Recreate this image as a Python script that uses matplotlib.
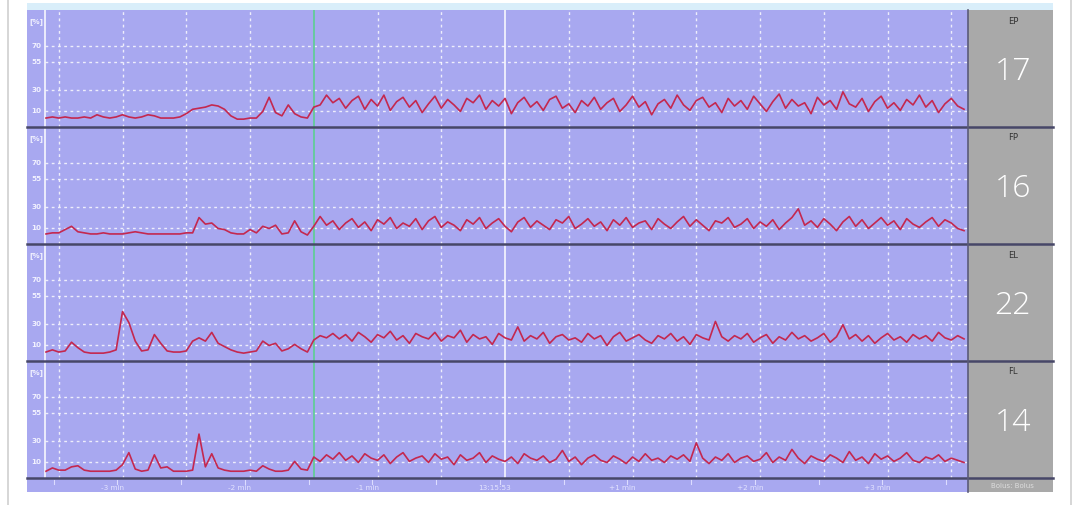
import numpy as np
import matplotlib
matplotlib.use("Agg")
import matplotlib.pyplot as plt
from matplotlib.patches import Rectangle

W, H = 1081, 505

names = ["EP", "FP", "EL", "FL"]
current = [17, 16, 22, 14]
grid_levels = [70, 55, 30, 10]
time_ticks = [-3, -2, -1, 0, 1, 2, 3]
time_labels = ["-3 min", "-2 min", "-1 min", "13:15:53", "+1 min", "+2 min", "+3 min"]

# trend values (%), before and after the marker at -1.5 min
ep_before = [4, 5, 4, 5, 4, 4, 5, 4, 7, 5,
             4, 5, 7, 5, 4, 5, 7, 6, 4, 4,
             4, 5, 8, 12, 13, 14, 16, 15, 12, 6,
             3, 3, 4, 4, 10, 23, 9, 6, 16, 8,
             5, 4]
ep_after = [14, 16, 25, 18, 22, 13, 20, 24, 12, 21,
            15, 25, 11, 19, 23, 14, 20, 9, 17, 24,
            13, 21, 16, 10, 22, 18, 25, 12, 20, 15,
            22, 8, 18, 23, 14, 19, 11, 21, 24, 13,
            17, 9, 20, 15, 23, 12, 18, 22, 10, 16,
            24, 14, 19, 7, 17, 21, 13, 25, 16, 11,
            20, 23, 14, 18, 9, 22, 15, 20, 12, 24,
            17, 10, 19, 26, 13, 21, 15, 18, 8, 23,
            16, 20, 12, 28, 17, 14, 22, 10, 19, 24,
            13, 18, 11, 21, 16, 25, 14, 20, 9, 17,
            22, 15, 12]

fp_before = [5, 6, 6, 9, 12, 7, 6, 5, 5, 6,
             5, 5, 5, 6, 7, 6, 5, 5, 5, 5,
             5, 5, 6, 6, 20, 14, 15, 10, 9, 6,
             5, 5, 9, 6, 12, 10, 13, 5, 6, 17,
             7, 4]
fp_after = [12, 21, 13, 17, 9, 15, 19, 11, 16, 8,
            18, 14, 20, 10, 15, 12, 19, 9, 17, 21,
            11, 16, 13, 8, 18, 14, 20, 10, 15, 19,
            12, 7, 16, 20, 11, 17, 13, 9, 18, 15,
            21, 10, 14, 19, 12, 16, 8, 18, 13, 20,
            11, 15, 17, 9, 19, 14, 10, 16, 21, 12,
            18, 13, 8, 17, 15, 20, 11, 14, 19, 10,
            16, 12, 18, 9, 15, 20, 28, 13, 17, 11,
            19, 14, 8, 16, 21, 12, 18, 10, 15, 20,
            13, 17, 9, 19, 14, 11, 16, 20, 12, 18,
            15, 10, 8]

el_before = [4, 6, 4, 5, 13, 8, 4, 3, 3, 3,
             4, 6, 41, 31, 14, 5, 6, 20, 12, 5,
             4, 4, 5, 14, 17, 14, 22, 12, 9, 6,
             4, 3, 4, 5, 14, 10, 12, 5, 7, 11,
             7, 4]
el_after = [15, 19, 17, 21, 16, 20, 14, 22, 18, 13,
            20, 17, 23, 15, 19, 12, 21, 18, 16, 22,
            14, 19, 17, 24, 13, 20, 16, 18, 11, 21,
            17, 15, 27, 14, 19, 16, 22, 12, 18, 20,
            15, 17, 13, 21, 16, 19, 10, 18, 22, 14,
            17, 20, 15, 12, 19, 16, 21, 14, 18, 11,
            20, 17, 15, 32, 18, 14, 19, 16, 21, 13,
            17, 20, 12, 18, 15, 22, 16, 19, 14, 17,
            21, 13, 18, 29, 16, 20, 14, 19, 12, 17,
            21, 15, 18, 13, 20, 16, 19, 14, 22, 17,
            15, 19, 16]

fl_before = [2, 5, 3, 3, 6, 7, 3, 2, 2, 2,
             2, 3, 8, 19, 4, 2, 3, 17, 5, 6,
             2, 2, 2, 3, 36, 6, 18, 5, 3, 2,
             2, 2, 3, 2, 7, 4, 2, 2, 3, 11,
             4, 3]
fl_after = [15, 11, 17, 13, 19, 12, 16, 10, 18, 14,
            12, 17, 9, 15, 19, 11, 14, 16, 10, 18,
            13, 15, 8, 17, 12, 14, 19, 10, 16, 13,
            11, 15, 9, 18, 14, 12, 16, 10, 13, 21,
            11, 15, 8, 14, 17, 12, 10, 16, 13, 9,
            15, 11, 18, 12, 14, 10, 16, 13, 17, 11,
            28, 14, 9, 15, 12, 18, 10, 14, 16, 11,
            13, 19, 10, 15, 12, 22, 14, 9, 16, 13,
            11, 17, 14, 10, 20, 12, 15, 9, 18, 13,
            16, 11, 14, 19, 12, 10, 15, 13, 17, 11,
            14, 12, 10]

traces = [(ep_before, ep_after), (fp_before, fp_after),
          (el_before, el_after), (fl_before, fl_after)]

BLUE = "#a8a8f0"
GRAY = "#a9a9a9"
DARK = "#474768"
RED = "#c4284f"
GREEN = "#62cc98"

XL = (-3.749, 3.631)   # minutes, left edge / right edge of the strip
YL = (-4.2, 102.9)
label_sep = -3.608
marker_t = -1.5
t_start, t_end = -3.6, 3.6

tops = [10, 127, 244, 361]
bottoms = [127, 244, 361, 478]

fig = plt.figure(figsize=(W / 100, H / 100), dpi=100)
fig.patch.set_facecolor("white")


def px_axes(x0, y0, x1, y1):
    return fig.add_axes([x0 / W, 1 - y1 / H, (x1 - x0) / W, (y1 - y0) / H])


bg = px_axes(0, 0, W, H)
bg.set_xlim(0, W)
bg.set_ylim(H, 0)
bg.axis("off")
bg.add_patch(Rectangle((27, 3), 1026, 7, color="#d9eefa", lw=0))
bg.add_patch(Rectangle((968, 10), 85, 482, color=GRAY, lw=0))
bg.plot([8, 8], [0, H], color="#cfcfcf", lw=1.2)
bg.plot([1071, 1071], [0, H], color="#cfcfcf", lw=1.2)

for k in range(4):
    ax = px_axes(27, tops[k], 968, bottoms[k])
    ax.set_facecolor(BLUE)
    ax.set_xlim(*XL)
    ax.set_ylim(*YL)
    for s in ax.spines.values():
        s.set_visible(False)
    ax.set_xticks([])
    ax.set_yticks([])

    for lv in grid_levels:
        ax.plot([label_sep, XL[1]], [lv, lv], color="white", lw=1.0,
                ls=(0, (2, 2.5)), alpha=0.8)
    for m in np.arange(-3.5, 3.6, 0.5):
        if abs(m) < 1e-6 or abs(m - marker_t) < 1e-6:
            continue
        ax.axvline(m, color="white", lw=1.0, ls=(0, (2, 2.5)), alpha=0.8)
    ax.axvline(0, color="white", lw=1.2, alpha=0.9)
    ax.axvline(label_sep, color="white", lw=1.2, alpha=0.9)
    ax.axvline(marker_t, color=GREEN, lw=1.3)

    for lv in grid_levels:
        ax.text(-3.675, lv, str(lv), fontsize=5.2, color="#f2f2ff",
                ha="center", va="center", fontweight="bold")
    ax.text(-3.675, 92, "[%]", fontsize=5.2, color="#f2f2ff",
            ha="center", va="center", fontweight="bold")

    before, after = traces[k]
    tb = np.linspace(t_start, marker_t - 0.05, len(before))
    ta = np.linspace(marker_t, t_end, len(after))
    ax.plot(np.concatenate([tb, ta]), before + after, color=RED, lw=1.2,
            solid_joinstyle="round")

# time axis strip
tx = px_axes(27, 478, 968, 492)
tx.set_facecolor(BLUE)
tx.set_xlim(*XL)
tx.set_ylim(1, 0)
tx.axis("off")
tx.add_patch(Rectangle((XL[0], 0), XL[1] - XL[0], 1, color=BLUE, lw=0))
for m in np.arange(-3.5, 3.6, 0.5):
    tx.plot([m - 0.04, m - 0.04], [0.15, 0.4], color="#dcdcff", lw=0.8)
for t, lab in zip(time_ticks, time_labels):
    tx.text(t - 0.08, 0.72, lab, fontsize=5.2, color="#e4e4ff",
            ha="center", va="center")

# overlay: separators and value boxes
ov = px_axes(0, 0, W, H)
ov.set_xlim(0, W)
ov.set_ylim(H, 0)
ov.axis("off")
for y in bottoms:
    ov.plot([27, 1053], [y, y], color=DARK, lw=1.8)
ov.plot([968, 968], [10, 492], color="#5a5a78", lw=1.2)
for k in range(4):
    ov.text(1013, tops[k] + 11, names[k], fontsize=6, color="#333333",
            ha="center", va="center")
    ov.text(1013, tops[k] + 62, str(current[k]), fontsize=23, color="white",
            ha="center", va="center", family="Open Sans", fontweight="light")
ov.text(1012, 486, "Bolus: Bolus", fontsize=5, color="#dddddd",
        ha="center", va="center")

fig.savefig("out.png", dpi=100, facecolor="white")
